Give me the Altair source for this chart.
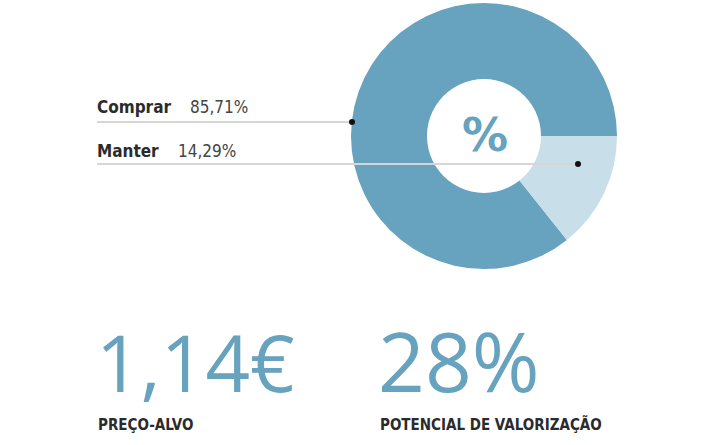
import math
import altair as alt
import pandas as pd

# ---- data ----
categories = ["Comprar", "Manter"]
shares = [85.71, 14.29]
slice_order = [1, 0]
kpi_values = ["1,14€", "28%"]
kpi_labels = ["PREÇO-ALVO", "POTENCIAL DE VALORIZAÇÃO"]
center_label = ["%"]

DARK = "#67a2be"
LIGHT = "#c8dee9"
GREY = "#d6d6d6"
TXT = "#2b2b2b"
BOLD_FONT = "Liberation Sans Narrow, DejaVu Sans Condensed, sans-serif"

def fmt(v):
    return f"{v:.2f}".replace(".", ",") + "%"

df = pd.DataFrame({"cat": categories, "val": shares, "ord": slice_order,
                   "txt": [fmt(v) for v in shares]})

donut = alt.Chart(df).mark_arc(innerRadius=57, outerRadius=133, stroke=None).encode(
    theta=alt.Theta("val:Q", stack=True,
                    scale=alt.Scale(range=[math.pi / 2, math.pi / 2 + 2 * math.pi])),
    color=alt.Color("cat:N", scale=alt.Scale(domain=categories, range=[DARK, LIGHT]), legend=None),
    order=alt.Order("ord:Q"),
    x=alt.value(484), y=alt.value(136),
)

center = alt.Chart(pd.DataFrame({"t": center_label})).mark_text(
    font="DejaVu Sans", fontWeight="bold", fontSize=46, color=DARK,
    align="center", baseline="middle").encode(
    text="t:N", x=alt.value(485), y=alt.value(137))

def leader(y, xend):
    return alt.Chart(pd.DataFrame({"a": [0]})).mark_rule(color=GREY, strokeWidth=2).encode(
        x=alt.value(97), x2=alt.value(xend), y=alt.value(y))

def dot(x, y):
    return alt.Chart(pd.DataFrame({"a": [0]})).mark_point(
        filled=True, color="#111111", size=36, opacity=1).encode(x=alt.value(x), y=alt.value(y))

def label(row, y, xnum):
    d = df[df.cat == categories[row]]
    name = alt.Chart(d).mark_text(font=BOLD_FONT, fontWeight="bold", fontSize=17, color=TXT,
                                  align="left", baseline="alphabetic").encode(
        text="cat:N", x=alt.value(97), y=alt.value(y))
    num = alt.Chart(d).mark_text(font=BOLD_FONT, fontSize=17, color="#444444",
                                 align="left", baseline="alphabetic").encode(
        text="txt:N", x=alt.value(xnum), y=alt.value(y))
    return name + num

kpi_df = pd.DataFrame({"v": kpi_values, "l": kpi_labels})

def kpi(i, x, size):
    d = kpi_df.iloc[[i]]
    big = alt.Chart(d).mark_text(font="Open Sans", fontWeight="normal", fontSize=size, color=DARK,
                                 align="left", baseline="alphabetic").encode(
        text="v:N", x=alt.value(x), y=alt.value(392))
    small = alt.Chart(d).mark_text(font=BOLD_FONT, fontWeight="bold", fontSize=15, color=TXT,
                                   align="left", baseline="alphabetic").encode(
        text="l:N", x=alt.value(98 if i == 0 else 380), y=alt.value(430))
    return big + small

chart = alt.layer(
    donut,
    center,
    leader(122, 352), leader(164, 578),
    dot(352, 122), dot(578, 164),
    label(0, 113, 190), label(1, 157, 178),
    kpi(0, 96, 78), kpi(1, 378, 82),
).properties(width=715, height=445, padding=0, autosize="none").configure_view(stroke=None)

chart.save("out.html", embed_options={"renderer": "svg", "actions": False})
